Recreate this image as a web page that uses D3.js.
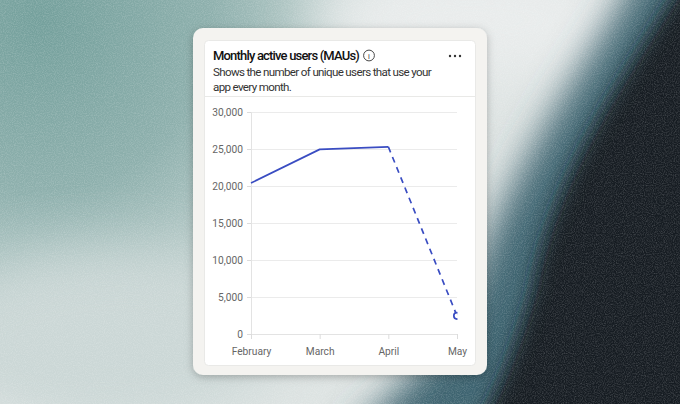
<!DOCTYPE html>
<html>
<head>
<meta charset="utf-8">
<script src="https://cdn.jsdelivr.net/npm/d3@7"></script>
<style>
  html, body { margin: 0; padding: 0; background: #dfe5e4; }
  svg { display: block; font-family: Roboto, Inter, "Noto Sans", sans-serif; }
</style>
</head>
<body>
<svg id="chart" width="680" height="404"></svg>
<script>
// data
const months = ['February', 'March', 'April', 'May'];
const users = [20400, 24950, 25300, 2450];
const actualCount = 3; // first three months are actual, the last is projected (dashed)
const yTicks = [0, 5000, 10000, 15000, 20000, 25000, 30000];

const svg = d3.select('#chart');
const defs = svg.append('defs');

// ---- background -----------------------------------------------------------
const tl = defs.append('radialGradient').attr('id', 'tealGrad')
  .attr('gradientUnits', 'userSpaceOnUse')
  .attr('cx', 40).attr('cy', 20).attr('r', 380);
tl.append('stop').attr('offset', '0%').attr('stop-color', '#74a09c');
tl.append('stop').attr('offset', '45%').attr('stop-color', '#8eb0ad');
tl.append('stop').attr('offset', '100%').attr('stop-color', '#8eb0ad').attr('stop-opacity', 0);

function blurFilter(id, sd) {
  defs.append('filter').attr('id', id)
    .attr('x', '-50%').attr('y', '-50%').attr('width', '200%').attr('height', '200%')
    .append('feGaussianBlur').attr('stdDeviation', sd);
}
blurFilter('blur', 28);
blurFilter('blurMid', 18);
blurFilter('blurSmall', 9);

const noise = defs.append('filter').attr('id', 'noise')
  .attr('x', 0).attr('y', 0).attr('width', '100%').attr('height', '100%');
noise.append('feTurbulence').attr('type', 'fractalNoise')
  .attr('baseFrequency', 0.9).attr('numOctaves', 2).attr('seed', 3);
noise.append('feColorMatrix').attr('type', 'matrix')
  .attr('values', '0 0 0 0 1  0 0 0 0 1  0 0 0 0 1  0 0 0 1.6 -0.6');

const bg = svg.append('g');
bg.append('rect').attr('width', 680).attr('height', 404).attr('fill', '#dde3e2');
bg.append('rect').attr('width', 680).attr('height', 404).attr('fill', 'url(#tealGrad)');
bg.append('ellipse').attr('cx', 110).attr('cy', 340).attr('rx', 170).attr('ry', 90)
  .attr('fill', '#cbd7d6').attr('filter', 'url(#blur)');
bg.append('ellipse').attr('cx', 470).attr('cy', 20).attr('rx', 160).attr('ry', 60)
  .attr('fill', '#e9ecec').attr('filter', 'url(#blur)');
// teal halo along the dark edge
bg.append('path')
  .attr('d', 'M640,-40 L630,-10 C570,90 505,180 475,280 C445,350 390,400 345,440 L740,440 L740,-40 Z')
  .attr('fill', '#3c6470').attr('filter', 'url(#blurMid)');
// dark body on the right
bg.append('path')
  .attr('d', 'M690,-40 L678,-10 C615,90 552,180 532,290 C515,350 495,400 470,440 L740,440 L740,-40 Z')
  .attr('fill', '#161b22').attr('filter', 'url(#blurSmall)');
bg.append('rect').attr('width', 680).attr('height', 404)
  .attr('filter', 'url(#noise)').attr('opacity', 0.22);

// ---- card -----------------------------------------------------------------
const shadow = defs.append('filter').attr('id', 'shadow')
  .attr('x', '-20%').attr('y', '-20%').attr('width', '140%').attr('height', '140%');
shadow.append('feDropShadow').attr('dx', 0).attr('dy', 2)
  .attr('stdDeviation', 4).attr('flood-color', '#000').attr('flood-opacity', 0.25);

svg.append('rect').attr('x', 193).attr('y', 28).attr('width', 294).attr('height', 347)
  .attr('rx', 10).attr('fill', '#f4f3f0').attr('filter', 'url(#shadow)');
svg.append('rect').attr('x', 204.5).attr('y', 40.5).attr('width', 271).attr('height', 325)
  .attr('rx', 4).attr('fill', '#fff').attr('stroke', '#e9e9e7');

// squeeze text to a measured width with letter-spacing
function fit(sel, target) {
  const n = sel.text().length;
  const w = sel.node().getComputedTextLength();
  sel.attr('letter-spacing', ((target - w) / n).toFixed(3));
  return sel;
}

const header = svg.append('g');
fit(header.append('text').attr('x', 213).attr('y', 60)
  .attr('font-size', 13).attr('font-weight', 500).attr('fill', '#111')
  .text('Monthly active users (MAUs)'), 146);
header.append('circle').attr('cx', 369).attr('cy', 55.5).attr('r', 5.4)
  .attr('fill', 'none').attr('stroke', '#333').attr('stroke-width', 0.9);
header.append('text').attr('x', 369).attr('y', 58.6).attr('text-anchor', 'middle')
  .attr('font-size', 7.5).attr('fill', '#333').text('i');
[450, 455, 460].forEach(cx => header.append('circle')
  .attr('cx', cx).attr('cy', 56).attr('r', 1.2).attr('fill', '#333'));
const sub1 = fit(header.append('text').attr('x', 213).attr('y', 75.5)
  .attr('font-size', 11.6).attr('fill', '#333')
  .text('Shows the number of unique users that use your'), 218);
header.append('text').attr('x', 213).attr('y', 90.5)
  .attr('font-size', 11.6).attr('letter-spacing', sub1.attr('letter-spacing'))
  .attr('fill', '#333').text('app every month.');
svg.append('line').attr('x1', 205).attr('x2', 475).attr('y1', 96.5).attr('y2', 96.5)
  .attr('stroke', '#e9e9e7');

// ---- chart ----------------------------------------------------------------
const margin = { top: 112, left: 251 };
const width = 206;
const height = 222;

const x = d3.scalePoint().domain(months).range([0, width]);
const y = d3.scaleLinear().domain([0, 30000]).range([height, 0]);

const g = svg.append('g').attr('transform', `translate(${margin.left},${margin.top})`);

defs.append('clipPath').attr('id', 'plotClip')
  .append('rect').attr('x', -10).attr('y', -10).attr('width', width + 10.5).attr('height', height + 20);

// gridlines
g.append('g').attr('class', 'grid')
  .call(d3.axisLeft(y).tickValues(yTicks).tickSize(-width).tickFormat(''))
  .call(s => s.select('.domain').remove())
  .call(s => s.selectAll('line').attr('stroke', '#ebebeb'));

const tickFont = s => s.selectAll('text').attr('fill', '#666').attr('font-size', 10.2)
  .attr('font-family', 'Roboto, Inter, "Noto Sans", sans-serif');

// y axis
g.append('g')
  .call(d3.axisLeft(y).tickValues(yTicks).tickSize(4).tickPadding(4).tickFormat(d3.format(',')))
  .call(s => s.select('.domain').attr('stroke', '#e3e3e3'))
  .call(s => s.selectAll('line').attr('stroke', '#dcdcdc'))
  .call(tickFont);

// x axis
g.append('g').attr('transform', `translate(0,${height})`)
  .call(d3.axisBottom(x).tickSize(5).tickPadding(9))
  .call(s => s.select('.domain').attr('stroke', '#e3e3e3'))
  .call(s => s.selectAll('line').attr('stroke', '#dcdcdc'))
  .call(tickFont);

const points = months.map((m, i) => ({ m, v: users[i] }));
const line = d3.line().x(d => x(d.m)).y(d => y(d.v));
const blue = '#3a4dc2';

const plot = g.append('g').attr('clip-path', 'url(#plotClip)');
plot.append('path').datum(points.slice(0, actualCount))
  .attr('d', line).attr('fill', 'none').attr('stroke', blue)
  .attr('stroke-width', 1.7).attr('stroke-linejoin', 'round');
plot.append('path').datum(points.slice(actualCount - 1))
  .attr('d', line).attr('fill', 'none').attr('stroke', blue)
  .attr('stroke-width', 1.7).attr('stroke-dasharray', '6,5');
plot.selectAll('.proj').data(points.slice(actualCount)).enter().append('circle')
  .attr('cx', d => x(d.m)).attr('cy', d => y(d.v)).attr('r', 3.2)
  .attr('fill', '#fff').attr('stroke', blue).attr('stroke-width', 1.7);
</script>
</body>
</html>
